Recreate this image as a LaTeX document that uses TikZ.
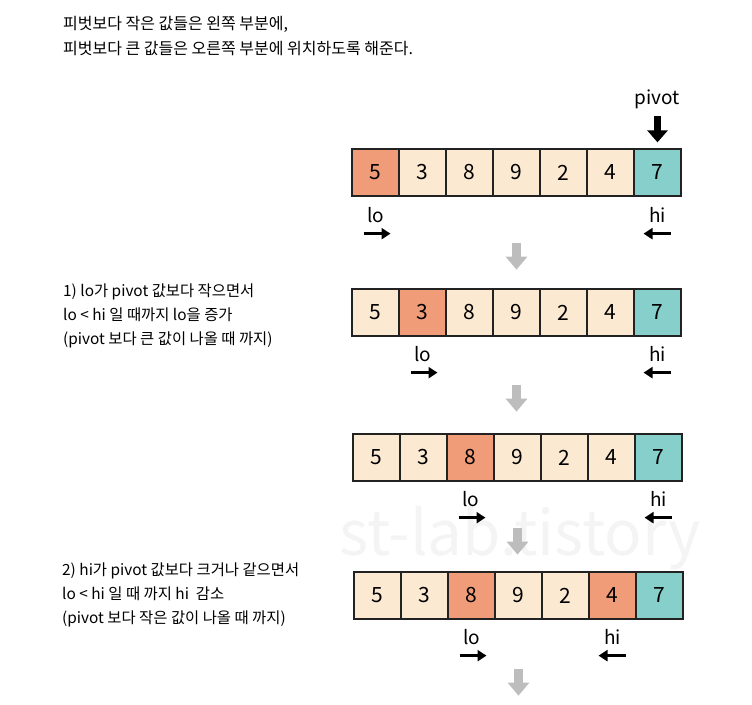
\documentclass[tikz,border=0pt]{standalone}
\usepackage{fontspec}
\usepackage{tikz}
\usepackage{xcolor}
\usetikzlibrary{positioning,arrows.meta}
\newfontfamily\kr{Noto Sans CJK KR}
\definecolor{cream}{HTML}{FBE9D2}
\definecolor{salmon}{HTML}{F19C79}
\definecolor{pivotc}{HTML}{86CFCA}
\definecolor{edge}{HTML}{222222}
\definecolor{flow}{HTML}{BDBDBD}
\definecolor{wmark}{HTML}{F4F4F4}
% one row of the array: name, left x, centre y, value/colour list
\newcommand{\cellrow}[4]{%
  \foreach \v/\c [count=\i] in {#4} {
    \node[cell,fill=\c] (#1-\i) at ({#2+23.5+47*(\i-1)},#3) {\v};
  }}

\begin{document}
\begin{tikzpicture}[x=1pt,y=-1pt,every node/.style={font=\kr},
    cell/.style={draw=edge,line width=1.3pt,minimum width=47pt,minimum height=47pt,
      inner sep=0pt,font=\kr\fontsize{21}{21}\selectfont},
    lbl/.style={inner sep=0pt,font=\kr\fontsize{19}{19}\selectfont},
    note/.style={inner sep=0pt,anchor=north west,align=left,font=\kr\fontsize{15.4}{24}\selectfont},
    ptr/.style={line width=3pt,-{Triangle[length=9pt,width=11pt]}},
    pivarr/.style={line width=7pt,-{Triangle[length=12pt,width=20pt]}},
    flowarr/.style={flow,line width=9pt,-{Triangle[length=13pt,width=21pt]}}]
  \useasboundingbox (0,0) rectangle (752,704);
  % watermark
  \node[text=wmark,font=\kr\fontsize{62}{62}\selectfont] (wm) at (520,538) {st-lab.tistory};
  % heading
  \node[note,font=\kr\fontsize{16}{25}\selectfont] (head) at (63,16)
    {피벗보다 작은 값들은 왼쪽 부분에,\\피벗보다 큰 값들은 오른쪽 부분에 위치하도록 해준다.};
  % step notes
  \node[note] (step1) at (63,284)
    {1) lo가 pivot 값보다 작으면서\\lo < hi 일 때까지 lo을 증가\\(pivot 보다 큰 값이 나올 때 까지)};
  \node[note] (step2) at (62,563)
    {2) hi가 pivot 값보다 크거나 같으면서\\lo < hi 일 때 까지 hi~ 감소\\(pivot 보다 작은 값이 나올 때 까지)};
  % arrays
  \cellrow{r1}{352}{172.5}{5/salmon,3/cream,8/cream,9/cream,2/cream,4/cream,7/pivotc}
  \cellrow{r2}{352}{312.5}{5/cream,3/salmon,8/cream,9/cream,2/cream,4/cream,7/pivotc}
  \cellrow{r3}{353}{457.5}{5/cream,3/cream,8/salmon,9/cream,2/cream,4/cream,7/pivotc}
  \cellrow{r4}{354}{595.5}{5/cream,3/cream,8/salmon,9/cream,2/cream,4/salmon,7/pivotc}
  % pivot marker
  \node[lbl] (pivot) at ([yshift=49pt]r1-7.north) {pivot};
  \draw[pivarr] ([yshift=-17pt]pivot.center) -- ([yshift=6pt]r1-7.north);
  % lo / hi pointers
  \node[lbl] (lo1) at ([yshift=-18pt]r1-1.south) {lo};
  \node[lbl] (hi1) at ([yshift=-18pt]r1-7.south) {hi};
  \node[lbl] (lo2) at ([yshift=-17pt]r2-2.south) {lo};
  \node[lbl] (hi2) at ([yshift=-17pt]r2-7.south) {hi};
  \node[lbl] (lo3) at ([yshift=-17pt]r3-3.south) {lo};
  \node[lbl] (hi3) at ([yshift=-17pt]r3-7.south) {hi};
  \node[lbl] (lo4) at ([yshift=-17pt]r4-3.south) {lo};
  \node[lbl] (hi4) at ([yshift=-17pt]r4-6.south) {hi};
  \foreach \n in {lo1,lo2,lo3,lo4}
    \draw[ptr] ([shift={(-12pt,-19pt)}]\n.center) -- ([shift={(15pt,-19pt)}]\n.center);
  \foreach \n in {hi1,hi2,hi3,hi4}
    \draw[ptr] ([shift={(13pt,-19pt)}]\n.center) -- ([shift={(-14pt,-19pt)}]\n.center);
  % flow between steps
  \foreach \r/\d in {r1/46,r2/48,r3/46,r4/49}
    \draw[flowarr] ([yshift=-\d pt]\r-4.south) -- ([yshift=-\d pt-27pt]\r-4.south);
\end{tikzpicture}
\end{document}
